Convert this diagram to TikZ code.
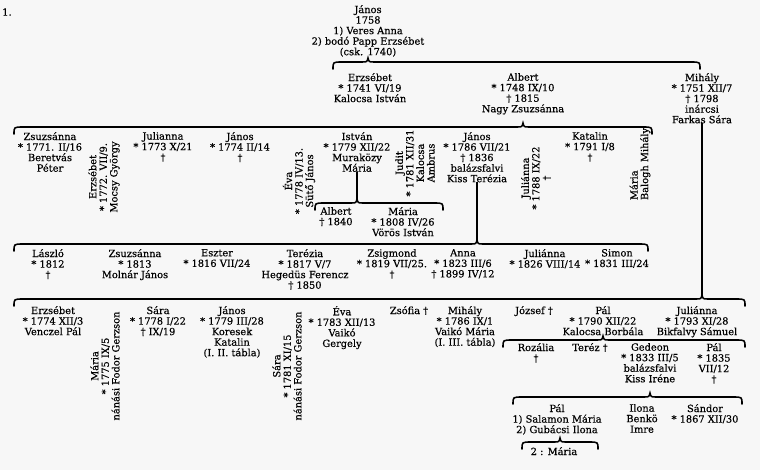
\documentclass[tikz,border=0pt]{standalone}
\usepackage{fontspec}
\setmainfont[FakeBold=0.4]{DejaVu Serif}
\usepackage{tikz}
\tikzstyle{person} = [align=center, inner sep=0pt, anchor=north, font=\pfont]
\tikzstyle{side} = [align=center, inner sep=0pt, rotate=90, font=\pfont]
\tikzstyle{famline} = [line width=2.2pt, line cap=round]
\tikzstyle{stem} = [line width=1.8pt]
\newcommand{\pfont}{\fontsize{14}{15}\selectfont}
% family bracket: name of cusp, left x, cusp x, right x, y
\newcommand{\famcurve}[5]{%
  \coordinate (#1) at (#3,#5-4);
  \draw[famline] (#2,#5+7) .. controls (#2,#5) .. (#2+9,#5) -- (#3-6,#5)
    .. controls (#3-1,#5) .. (#1) .. controls (#3+1,#5) .. (#3+6,#5)
    -- (#4-9,#5) .. controls (#4,#5) .. (#4,#5+7);}

\begin{document}
\begin{tikzpicture}[x=0.5mm, y=-0.5mm]
        % Bounding box
        \useasboundingbox (0,0) rectangle (760,470);
        \fill[black!3] (0,0) rectangle (760,470);

        % Nodes
        \node[font=\pfont] (num) at (7,12) {1.};
        \node[person] (root) at (368,5) {János\\1758\\1) Veres Anna\\2) bodó Papp Erzsébet\\(csk. 1740)};

        % first generation
        \node[person] (erzs1) at (370,73) {Erzsébet\\* 1741 VI/19\\Kalocsa István};
        \node[person] (albert) at (523,73) {Albert\\* 1748 IX/10\\† 1815\\Nagy Zsuzsánna};
        \node[person] (mihaly) at (702,73) {Mihály\\* 1751 XII/7\\† 1798\\inárcsi\\Farkas Sára};

        % children of Albert
        \node[person] (zsu2) at (50,132) {Zsuzsánna\\* 1771. II/16\\Beretvás\\Péter};
        \node[side] (erzs2) at (104,177) {Erzsébet\\* 1772. VII/9.\\Mocsy György};
        \node[person] (jul2) at (163,132) {Julianna\\* 1773 X/21\\†};
        \node[person] (jan2) at (240,132) {János\\* 1774 II/14\\†};
        \node[side] (eva2) at (299,181) {Éva\\* 1778 IV/13.\\Sütő János};
        \node[person] (istvan) at (357,132) {István\\* 1779 XII/22\\Muraközy\\Mária};
        \node[side] (judit) at (415,163) {Judit\\* 1781 XII/31\\Kalocsa\\Ambrus};
        \node[person] (janos2) at (477,132) {János\\* 1786 VII/21\\† 1836\\balázsfalvi\\Kiss Terézia};
        \node[side] (julia2) at (536,178) {Juliánna\\* 1788 IX/22\\†};
        \node[person] (kat2) at (590,132) {Katalin\\* 1791 I/8\\†};
        \node[side, align=left] (maria2) at (640,164) {Mária\\Balogh Mihály};

        % children of István
        \node[person] (albert3) at (336,207) {Albert\\† 1840};
        \node[person] (maria3) at (403,207) {Mária\\* 1808 IV/26\\Vörös István};

        % children of János
        \node[person] (laszlo) at (48,249) {László\\* 1812\\†};
        \node[person] (zsu3) at (135,249) {Zsuzsánna\\* 1813\\Molnár János};
        \node[person] (eszter) at (217,249) {Eszter\\* 1816 VII/24};
        \node[person] (terez3) at (305,249) {Terézia\\* 1817 V/7\\Hegedüs Ferencz\\† 1850};
        \node[person] (zsig) at (392,249) {Zsigmond\\* 1819 VII/25.\\†};
        \node[person] (anna) at (463,249) {Anna\\* 1823 III/6\\† 1899 IV/12};
        \node[person] (jul3) at (545,249) {Juliánna\\* 1826 VIII/14};
        \node[person] (simon) at (617,249) {Simon\\* 1831 III/24};

        % children of Mihály
        \node[person] (erzs3) at (53,306) {Erzsébet\\* 1774 XII/3\\Venczel Pál};
        \node[side] (maria4) at (105,366) {Mária\\* 1775 IX/5\\nánási Fodor Gerzson};
        \node[person] (sara3) at (158,306) {Sára\\* 1778 I/22\\† IX/19};
        \node[person] (janos3) at (232,306) {János\\* 1779 III/28\\Koresek\\Katalin\\(I. II. tábla)};
        \node[side] (sara4) at (287,366) {Sára\\* 1781 XI/15\\nánási Fodor Gerzson};
        \node[person] (eva3) at (342,306) {Éva\\* 1783 XII/13\\Vaikó\\Gergely};
        \node[person] (zsofia) at (409,306) {Zsófia †};
        \node[person] (mihaly3) at (465,306) {Mihály\\* 1786 IX/1\\Vaikó Mária\\(I. III. tábla)};
        \node[person] (jozsef) at (534,306) {József †};
        \node[person] (pal3) at (603,306) {Pál\\* 1790 XII/22\\Kalocsa Borbála};
        \node[person] (julia3) at (697,306) {Juliánna\\* 1793 XI/28\\Bikfalvy Sámuel};

        % children of Pál
        \node[person] (rozalia) at (536,343) {Rozália\\†};
        \node[person] (terez4) at (590,343) {Teréz †};
        \node[person] (gedeon) at (650,343) {Gedeon\\* 1833 III/5\\balázsfalvi\\Kiss Iréne};
        \node[person] (pal4) at (714,343) {Pál\\* 1835\\VII/12\\†};

        % children of Gedeon
        \node[person] (pal5) at (557,404) {Pál\\1) Salamon Mária\\2) Gubácsi Ilona};
        \node[person] (ilona) at (642,404) {Ilona\\Benkö\\Imre};
        \node[person] (sandor) at (705,404) {Sándor\\* 1867 XII/30};
        \node[person] (maria5) at (554,447) {2 : Mária};

        % Edges
        \famcurve{gR}{333}{368}{700}{62}      % root
        \famcurve{gA}{14}{523}{652}{127}      % Albert
        \famcurve{gI}{315}{357}{443}{203}     % István
        \famcurve{gJ}{14}{477}{648}{244}      % János
        \famcurve{gM}{14}{702}{745}{299}      % Mihály
        \famcurve{gP}{503}{603}{745}{340}     % Pál
        \famcurve{gG}{513}{650}{742}{397}     % Gedeon
        \famcurve{gS}{522}{560}{598}{442}     % second wife of Pál

        \draw[stem] (istvan.south) -- (gI);
        \draw[stem] (janos2.south) -- (gJ);
        \draw[stem] (mihaly.south) -- (gM);

    \end{tikzpicture}
\end{document}
